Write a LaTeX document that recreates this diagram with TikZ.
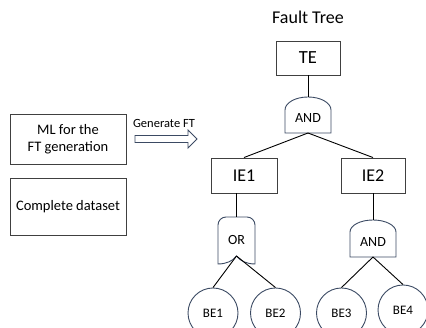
\documentclass[tikz,border=0pt]{standalone}
\usepackage{fontspec}
\setmainfont{Carlito}
\definecolor{edge}{HTML}{3B4A63}
\tikzset{>=latex,
	evbox/.style={draw=black!75, line width=0.9pt, inner sep=0pt},
	gate/.style={draw=edge, line width=0.9pt},
	gatelbl/.style={font=\fontsize{14}{16}\selectfont},
	basic/.style={circle, draw=edge, line width=0.9pt, minimum size=50pt, inner sep=0pt, font=\fontsize{13}{15}\selectfont},
	wire/.style={line width=0.9pt, black}
}

\begin{document}
\begin{tikzpicture}[x=1pt,y=1pt]
	\clip (0,0) rectangle (426,328);
	% left side
	\node[evbox, minimum width=116pt, minimum height=50pt, align=center, font=\fontsize{14.5}{17}\selectfont] (ml) at (68,189) {ML for the\\FT generation};
	\node[evbox, minimum width=116pt, minimum height=57pt, font=\fontsize{14.5}{17}\selectfont] (data) at (68,121.5) {Complete dataset};
	\node[font=\fontsize{12.5}{14}\selectfont] (gen) at (164,205) {Generate FT};
	\draw[gate] (135,185.5) -- (188,185.5) -- (188,180) -- (197,189) -- (188,198) -- (188,192.5) -- (135,192.5) -- cycle;
	% the tree
	\node[font=\fontsize{18}{20}\selectfont] (title) at (308,311) {Fault Tree};
	\node[evbox, minimum width=64pt, minimum height=34pt, font=\fontsize{18.5}{20}\selectfont] (te) at (308,270) {TE};
	\draw[gate] (285,195) -- (285,218) arc[start angle=180, end angle=0, x radius=23pt, y radius=13pt] -- (331,195) -- cycle;
	\node[gatelbl] (and1) at (308,210) {AND};
	\coordinate (and1-in) at (308,231);
	\coordinate (and1-out) at (308,195);
	\node[evbox, minimum width=66pt, minimum height=35pt, font=\fontsize{18}{20}\selectfont] (ie1) at (244,152.5) {IE1};
	\node[evbox, minimum width=64pt, minimum height=35pt, font=\fontsize{18}{20}\selectfont] (ie2) at (373,152.5) {IE2};
	% OR gate under IE1
	\draw[gate] (218,64) -- (218,103) to[out=90,in=180] (226,111) -- (247,111) to[out=0,in=90] (255,103) -- (255,64)
		.. controls (247,64) and (240,67) .. (236.5,72) .. controls (233,67) and (226,64) .. (218,64) -- cycle;
	\node[gatelbl] (or1) at (236.5,88) {OR};
	\coordinate (or1-in) at (236.5,111);
	\coordinate (or1-out) at (236.5,72);
	% AND gate under IE2
	\draw[gate] (350,71) -- (350,96) arc[start angle=180, end angle=0, x radius=23pt, y radius=12pt] -- (396,71) -- cycle;
	\node[gatelbl] (and2) at (373,86) {AND};
	\coordinate (and2-in) at (373,108);
	\coordinate (and2-out) at (373,71);
	\node[basic] (be1) at (213,15) {BE1};
	\node[basic] (be2) at (275.5,15) {BE2};
	\node[basic] (be3) at (341.5,15) {BE3};
	\node[basic] (be4) at (403,18) {BE4};
	% connections
	\draw[wire] (te) -- (and1-in);
	\draw[wire] (and1-out) -- (ie1.north);
	\draw[wire] (and1-out) -- (ie2.north);
	\draw[wire] (ie1.south -| or1-in) -- (or1-in);
	\draw[wire] (or1-out) -- (be1.north);
	\draw[wire] (or1-out) -- (be2.north);
	\draw[wire] (ie2) -- (and2-in);
	\draw[wire] (and2-out) -- (be3.north);
	\draw[wire] (and2-out) -- (be4.north);
\end{tikzpicture}
\end{document}
